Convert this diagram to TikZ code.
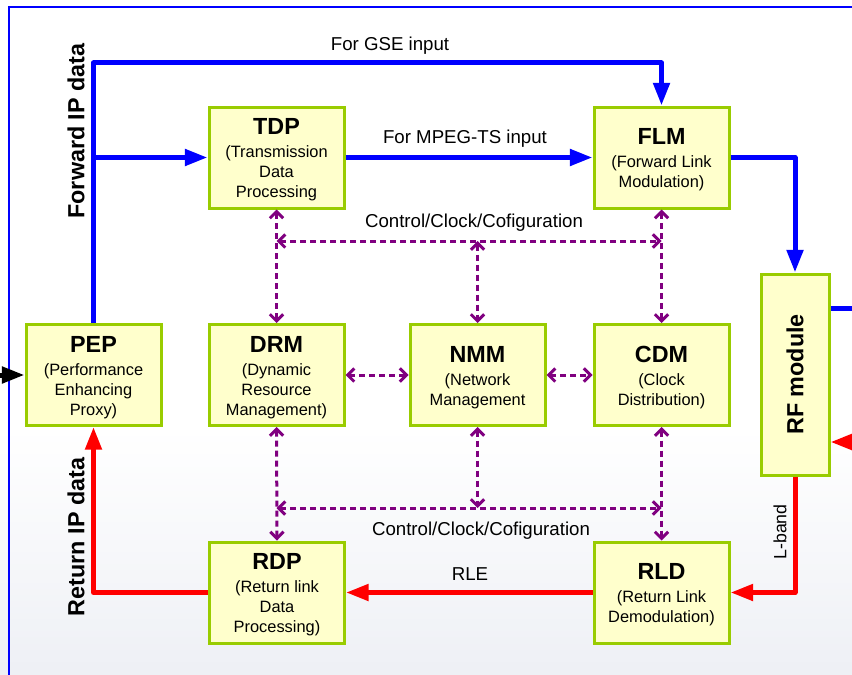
\documentclass[tikz,border=0pt]{standalone}
\usepackage{fontspec}
\setmainfont{Liberation Sans}
\usetikzlibrary{arrows.meta}
\definecolor{boxfill}{RGB}{255,255,204}
\definecolor{boxline}{RGB}{153,204,0}
\definecolor{ctlpurple}{RGB}{128,0,128}
\definecolor{fwdblue}{RGB}{0,0,255}
\definecolor{retred}{RGB}{255,0,0}
\definecolor{bgbottom}{RGB}{238,240,245}
\newcommand{\ttl}[1]{{\fontsize{17.5}{17.5}\selectfont\bfseries\rule{0pt}{15.6pt}#1}}
\begin{document}
\begin{tikzpicture}[x=0.75pt,y=-0.75pt,
  blockbox/.style={draw=boxline, fill=boxfill, line width=2.25pt,
    minimum width=101.25pt, minimum height=75.75pt, inner sep=0pt,
    align=center, font=\fontsize{12.3}{15}\selectfont},
  thickarrow/.style={line width=3.75pt, line join=round, -{Triangle[length=17pt,width=12pt]}},
  fwd/.style={thickarrow, draw=fwdblue},
  ret/.style={thickarrow, draw=retred},
  plainfwd/.style={line width=3.75pt, line join=round, draw=fwdblue},
  ctl/.style={draw=ctlpurple, line width=2.25pt, dash pattern=on 4.5pt off 3pt,
    {Straight Barb[length=5pt,width=10pt]}-{Straight Barb[length=5pt,width=10pt]}},
  lbl/.style={font=\fontsize{14}{16}\selectfont, inner sep=0pt},
  side/.style={font=\fontsize{17.5}{20}\selectfont\bfseries, rotate=90, inner sep=0pt}]

\useasboundingbox (0,0) rectangle (852,674);
% background
\fill[white] (0,0) rectangle (852,674);
\foreach \i in {0,...,39} {
  \pgfmathsetmacro\pc{\i*100/39}
  \fill[bgbottom!\pc!white] (0,{430+\i*6.1}) rectangle (852,{430+(\i+1)*6.1+0.6});
}
% outer frame
\coordinate (frBL) at (9,690);
\coordinate (frTL) at (9,7);
\coordinate (frTR) at (870,7);
\draw[fwdblue, line width=1.5pt] (frBL) -- (frTL) -- (frTR);

% blocks
\node[blockbox] (TDP) at (276.5,157.5) {\ttl{TDP}\\[2.25pt](Transmission\\Data\\Processing};
\node[blockbox] (FLM) at (661.5,157.5) {\ttl{FLM}\\[2.25pt](Forward Link\\Modulation)};
\node[blockbox] (PEP) at (93.5,375) {\ttl{PEP}\\[2.25pt](Performance\\Enhancing\\Proxy)};
\node[blockbox] (DRM) at (276.5,375) {\ttl{DRM}\\[2.25pt](Dynamic\\Resource\\Management)};
\node[blockbox] (NMM) at (477.5,375) {\ttl{NMM}\\[2.25pt](Network\\Management};
\node[blockbox] (CDM) at (661.5,375) {\ttl{CDM}\\[2.25pt](Clock\\Distribution)};
\node[blockbox] (RDP) at (277,592.5) {\ttl{RDP}\\[2.25pt](Return link\\Data\\Processing)};
\node[blockbox] (RLD) at (661.5,592.5) {\ttl{RLD}\\[2.25pt](Return Link\\Demodulation)};
\node[blockbox, minimum width=51pt, minimum height=150.75pt] (RF) at (795,374.5) {};
\node[side] (RFt) at (RF.center) {RF module};

% forward path
\coordinate (fwdTop) at (93.5,63);
\draw[fwd] (PEP.north) -- (fwdTop) -| (FLM.north);
\draw[fwd] (PEP.north |- TDP.west) -- (TDP.west);
\draw[fwd] (TDP.east) -- (FLM.east -| FLM.west);
\draw[fwd] (FLM.east) -| (RF.north);
\coordinate (rfOut) at (870,308);
\draw[plainfwd] (RF.east |- rfOut) -- (rfOut);

% return path
\coordinate (rfIn) at (870,442);
\draw[ret] (rfIn) -- (RF.east |- rfIn);
\draw[ret] (RF.south) |- (RLD.east);
\draw[ret] (RLD.west) -- (RDP.east);
\draw[ret] (RDP.west) -| (PEP.south);

% input to PEP
\coordinate (pepIn) at (-20,375);
\draw[thickarrow, draw=black] (pepIn) -- (PEP.west);

% control grid upper
\coordinate (uL) at (276.5,241);
\coordinate (uM) at (477.5,241);
\coordinate (uR) at (661.5,241);
\draw[ctl] (TDP.south) -- (DRM.north);
\draw[ctl] (FLM.south) -- (CDM.north);
\draw[ctl] (uL) -- (uR);
\draw[ctl] (uM) -- (NMM.north);
% control grid lower
\coordinate (lL) at (276.5,508);
\coordinate (lM) at (477.5,508);
\coordinate (lR) at (661.5,508);
\draw[ctl] (DRM.south) -- (RDP.north);
\draw[ctl] (CDM.south) -- (RLD.north);
\draw[ctl] (lL) -- (lR);
\draw[ctl] (NMM.south) -- (lM);
% horizontal links
\draw[ctl] (DRM.east) -- (NMM.west);
\draw[ctl] (NMM.east) -- (CDM.west);

% labels
\node[lbl] (lGSE) at (390,46) {For GSE input};
\node[lbl] (lMPEG) at (465,139) {For MPEG-TS input};
\node[lbl] (lCtlU) at (474,223) {Control/Clock/Cofiguration};
\node[lbl] (lCtlL) at (481,531) {Control/Clock/Cofiguration};
\node[lbl] (lRLE) at (470,574) {RLE};
\node[lbl, rotate=90, font=\fontsize{13.3}{15}\selectfont] (lLband) at (780,532) {L-band};
\node[side] (lFwd) at (76,131) {Forward IP data};
\node[side] (lRet) at (76,537) {Return IP data};
\end{tikzpicture}
\end{document}
